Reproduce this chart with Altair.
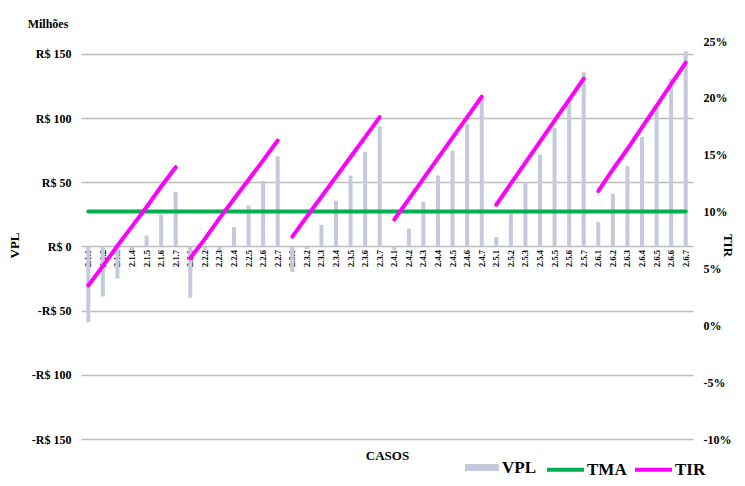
import altair as alt
import pandas as pd

groups = ["2.1", "2.2", "2.3", "2.4", "2.5", "2.6"]
categories = [f"{g}.{i}" for g in groups for i in range(1, 8)]

# VPL in millions of R$
vpl_g1 = [-59, -39, -25, -3, 8.4, 24.8, 42.5]
vpl_g2 = [-40, -3, -3, 15, 32, 51, 70]
vpl_g3 = [-20, -2, 16.8, 35.7, 55.2, 73.6, 93.6]
vpl_g4 = [-3, 13.9, 34.7, 55.2, 74.6, 95.5, 115.2]
vpl_g5 = [7.4, 25.6, 50, 71.5, 92.3, 112.3, 135.7]
vpl_g6 = [19.1, 40.9, 62.4, 85.3, 107.6, 130.5, 152]

# TIR in %
tir_g1 = [3.5, 5.2, 7.0, 8.7, 10.4, 12.2, 13.9]
tir_g2 = [5.9, 7.6, 9.4, 11.1, 12.8, 14.5, 16.25]
tir_g3 = [7.8, 9.55, 11.3, 13.05, 14.8, 16.55, 18.3]
tir_g4 = [9.3, 11.1, 12.9, 14.7, 16.5, 18.3, 20.1]
tir_g5 = [10.6, 12.45, 14.3, 16.15, 18.0, 19.85, 21.7]
tir_g6 = [11.8, 13.7, 15.5, 17.4, 19.3, 21.2, 23.1]

tma_value = 10

vpl_ticks = [-150, -100, -50, 0, 50, 100, 150]
tir_ticks = [-10, -5, 0, 5, 10, 15, 20, 25]

vpl_all = vpl_g1 + vpl_g2 + vpl_g3 + vpl_g4 + vpl_g5 + vpl_g6
tir_groups = [tir_g1, tir_g2, tir_g3, tir_g4, tir_g5, tir_g6]

bar_df = pd.DataFrame({"cat": categories, "vpl": vpl_all, "s": ["VPL"] * len(categories)})

rows = []
for c in categories:
    rows.append({"cat": c, "val": tma_value, "series": "TMA", "seg": "TMA"})
for g, vals in zip(groups, tir_groups):
    for i, v in enumerate(vals):
        rows.append({"cat": f"{g}.{i+1}", "val": v, "series": "TIR", "seg": "TIR" + g})
line_df = pd.DataFrame(rows)

W, H = 612, 398
VMIN, VMAX = -150, 160
zero_px = H * (VMAX - 0) / (VMAX - VMIN)
x_offset = zero_px - H

FONT = "Liberation Serif"
BAR_COLOR = "#c4cad9"

xenc = alt.X(
    "cat:N",
    sort=categories,
    scale=alt.Scale(paddingInner=0, paddingOuter=0),
    axis=alt.Axis(
        title="CASOS",
        labelAngle=270,
        labelFontSize=8.5,
        labelPadding=3,
        labelOverlap=False,
        ticks=False,
        domain=False,
        offset=x_offset,
        titleY=203,
        titleFontSize=13,
    ),
)

bars = alt.Chart(bar_df).mark_bar(width=4).encode(
    x=xenc,
    y=alt.Y(
        "vpl:Q",
        scale=alt.Scale(domain=[VMIN, VMAX], nice=False, zero=False),
        axis=alt.Axis(
            title="VPL",
            values=vpl_ticks,
            labelExpr="datum.value < 0 ? '-R$ ' + abs(datum.value) : 'R$ ' + datum.value",
            grid=True,
            gridColor="#bdbdbd",
            gridWidth=1.3,
            ticks=False,
            domain=False,
            labelPadding=10,
            labelFontSize=12,
            titleFontSize=13,
            titleY=204,
            titleX=-60,
        ),
    ),
    fill=alt.Fill(
        "s:N",
        scale=alt.Scale(domain=["VPL"], range=[BAR_COLOR]),
        legend=alt.Legend(
            title=None,
            orient="none",
            legendX=384,
            legendY=409.5,
            symbolType="M-1,-0.2H1V0.2H-1Z",
            symbolSize=1156,
            symbolStrokeWidth=0,
            labelOffset=3,
            labelFontSize=17,
        ),
    ),
)

lines = alt.Chart(line_df).mark_line(strokeWidth=4, strokeCap="round").encode(
    x=xenc,
    y=alt.Y(
        "val:Q",
        scale=alt.Scale(domain=[-10, 25], nice=False, zero=False),
        axis=alt.Axis(
            title="TIR",
            orient="right",
            values=tir_ticks,
            labelExpr="datum.value + '%'",
            grid=False,
            ticks=False,
            domain=False,
            labelPadding=10,
            labelFontSize=12,
            titleAngle=90,
            titleFontSize=13,
            titleBaseline="middle",
            titleX=34,
            titleY=204,
        ),
    ),
    stroke=alt.Stroke(
        "series:N",
        scale=alt.Scale(domain=["TMA", "TIR"], range=["#00b050", "#ff00ff"]),
        legend=alt.Legend(
            title=None,
            orient="none",
            direction="horizontal",
            legendX=464,
            legendY=408,
            symbolType="stroke",
            symbolSize=1369,
            symbolStrokeWidth=4,
            columnPadding=0,
            labelOffset=1,
            labelFontSize=17,
        ),
    ),
    detail="seg:N",
    order=alt.Order("cat:N"),
)

label_df = pd.DataFrame({"t": ["Milhões"]})
milhoes = alt.Chart(label_df).mark_text(
    font=FONT, fontWeight="bold", fontSize=12, align="center", baseline="middle"
).encode(text="t:N", x=alt.value(-33), y=alt.value(-17))

chart = (
    alt.layer(bars, lines, milhoes)
    .resolve_scale(y="independent")
    .properties(
        width=W,
        height=H,
        autosize=alt.AutoSizeParams(type="none"),
        padding={"left": 73, "top": 33, "right": 44, "bottom": 39},
        background="white",
    )
    .configure_view(stroke=None)
    .configure_axis(
        labelFont=FONT,
        titleFont=FONT,
        labelFontWeight="bold",
        titleFontWeight="bold",
        labelColor="#000000",
        titleColor="#000000",
    )
    .configure_legend(
        labelFont=FONT,
        labelFontWeight="bold",
        labelColor="#000000",
        padding=0,
    )
)

chart.save("out.html", embed_options={"renderer": "svg", "actions": False})
